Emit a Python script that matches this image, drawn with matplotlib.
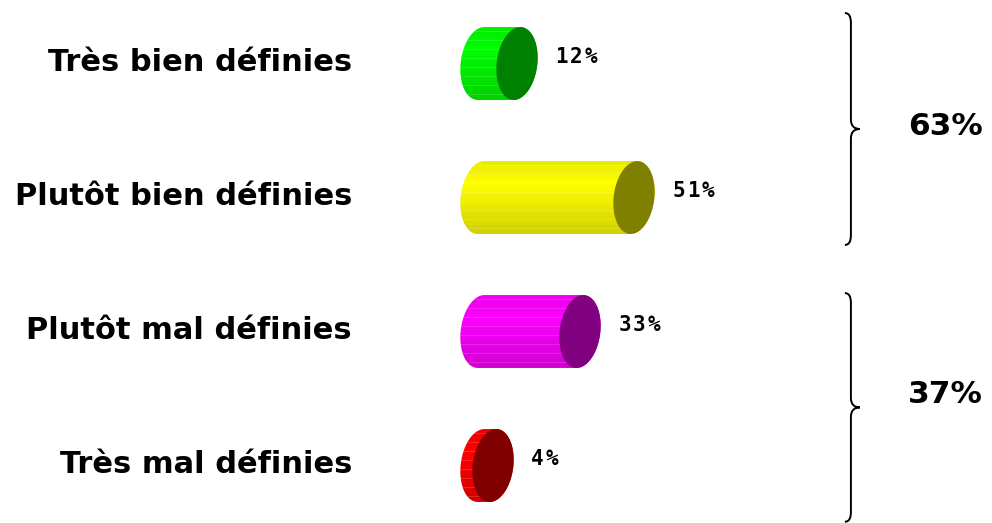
import numpy as np
import matplotlib
matplotlib.use("Agg")
import matplotlib.pyplot as plt
from matplotlib.patches import Polygon, PathPatch
from matplotlib.path import Path
from matplotlib.colors import to_rgb
from matplotlib.transforms import ScaledTranslation

# data
categories = ["Très bien définies", "Plutôt bien définies",
              "Plutôt mal définies", "Très mal définies"]
values = [12, 51, 33, 4]
body_colors = ["#00ff00", "#ffff00", "#ff00ff", "#ff0000"]
cap_colors = ["#008000", "#808000", "#800080", "#800000"]
groups = [(0, 1), (2, 3)]
group_totals = [63, 37]

# cylinder geometry, in axis units (% along x, category slots along y)
RX = 6.8
RY = 0.272
SH = 1.1
brace_pads = [(0.377, 0.354), (0.287, 0.42)]


def ellipse_pts(cx, cy, t):
    u = np.sin(t)
    return np.column_stack([cx + RX * np.cos(t) + SH * u, cy - RY * u])


def shade(color, n=73):
    base = np.array(to_rgb(color))
    f = np.linspace(0, 1, n)
    k = np.interp(f, [0, 0.3, 1], [0.92, 1.0, 0.82])
    img = base[None, :] * k[:, None]
    for r in range(4, n, 9):
        img[r] = img[r] * 0.85 + 0.15
    return img[:, None, :]


def spaced_label(ax, x, y, s, pitch=10.4):
    # the reference uses a tracked, monospaced label
    for k, ch in enumerate(s):
        ax.annotate(ch, (x, y), xytext=(k * pitch, 0), textcoords="offset points",
                    family="DejaVu Sans Mono", fontweight="bold", fontsize=15,
                    va="center", ha="left")


def cylinder(ax, i, v, body, cap):
    back = ellipse_pts(0, i, np.linspace(np.pi / 2, 3 * np.pi / 2, 60))
    front = ellipse_pts(v, i, np.linspace(3 * np.pi / 2, 5 * np.pi / 2, 60))
    outline = Polygon(np.vstack([back, front]), closed=True,
                      facecolor="none", edgecolor="none")
    ax.add_patch(outline)
    pts = outline.get_xy()
    im = ax.imshow(shade(body), aspect="auto", interpolation="nearest",
                   extent=(pts[:, 0].min(), pts[:, 0].max(), i + RY, i - RY),
                   zorder=2)
    im.set_clip_path(outline)
    face = ellipse_pts(v, i, np.linspace(0, 2 * np.pi, 120))
    ax.add_patch(Polygon(face, closed=True, facecolor=cap, edgecolor="none",
                         zorder=3))
    spaced_label(ax, v + RX + 6.0, i - 0.045, f"{v}%")


def brace(ax, y0, y1, ym):
    xl, xh, xt, d = 123.3, 121.3, 126.3, 0.07
    verts = [(xh, y0), (xl, y0), (xl, y0 + d), (xl, ym - d), (xl, ym), (xt, ym),
             (xl, ym), (xl, ym + d), (xl, y1 - d), (xl, y1), (xh, y1)]
    codes = [Path.MOVETO, Path.CURVE3, Path.CURVE3, Path.LINETO, Path.CURVE3,
             Path.CURVE3, Path.CURVE3, Path.CURVE3, Path.LINETO, Path.CURVE3,
             Path.CURVE3]
    ax.add_patch(PathPatch(Path(verts, codes), facecolor="none",
                           edgecolor="black", lw=1.4, clip_on=False))


fig = plt.figure(figsize=(9.92, 5.23), dpi=100)
ax = fig.add_axes([440 / 992, 0, 400 / 992, 1])

for i, (v, bc, cc) in enumerate(zip(values, body_colors, cap_colors)):
    cylinder(ax, i, v, bc, cc)

for (a, b), tot, (p0, p1) in zip(groups, group_totals, brace_pads):
    y0, y1 = a - p0, b + p1
    brace(ax, y0, y1, (y0 + y1) / 2)
    ax.text(142.4, (a + b) / 2 - 0.03, f"{tot}%", fontsize=22.5,
            fontweight="bold", va="center", ha="left", clip_on=False)

ax.set_xlim(-41 / 3, 359 / 3)
ax.set_ylim(3.429, -0.474)
ax.set_yticks(range(len(categories)))
ax.set_yticklabels(categories, fontsize=22, fontweight="bold")
ax.tick_params(axis="y", length=0, pad=63.4)
lift = ScaledTranslation(0, 3 / 72, fig.dpi_scale_trans)
for lbl in ax.get_yticklabels():
    lbl.set_transform(lbl.get_transform() + lift)
ax.set_xticks([])
for s in ax.spines.values():
    s.set_visible(False)

fig.savefig("out.png", dpi=100)
